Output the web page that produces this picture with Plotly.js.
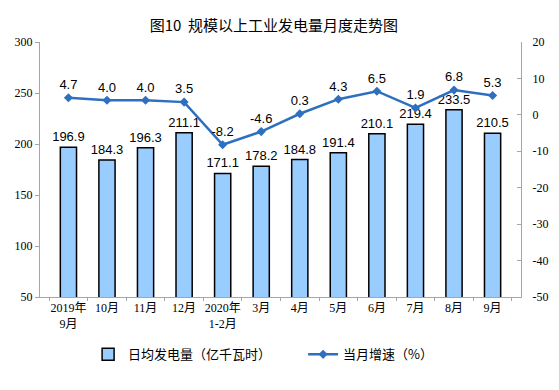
<!DOCTYPE html>
<html><head><meta charset="utf-8">
<script src="https://cdn.plot.ly/plotly-3.0.1.min.js"></script>
<style>body{margin:0;background:#fff}#c{width:559px;height:390px}</style>
</head><body><div id="c"></div>
<script>
var categories = ['2019年<br>9月','10月','11月','12月','2020年<br>1-2月','3月','4月','5月','6月','7月','8月','9月'];
var dailyGen = [196.9,184.3,196.3,211.1,171.1,178.2,184.8,191.4,210.1,219.4,233.5,210.5];
var growth = [4.7,4.0,4.0,3.5,-8.2,-4.6,0.3,4.3,6.5,1.9,6.8,5.3];
var leftTicks = [50,100,150,200,250,300];
var rightTicks = [-50,-40,-30,-20,-10,0,10,20];

var traces = [
  {type:'bar', x:categories, y:dailyGen, name:'日均发电量（亿千瓦时）',
   marker:{color:'#99CCFF', line:{color:'#000000', width:1.5}},
   width:0.42, text:dailyGen.map(function(v){return v.toFixed(1);}),
   textposition:'outside', cliponaxis:false, constraintext:'none',
   textfont:{family:'Liberation Sans, Arial', size:13, color:'#000'}},
  {type:'scatter', mode:'lines+markers+text', x:categories, y:growth, yaxis:'y2', name:'当月增速（%）',
   line:{color:'#2E6FC0', width:2.5}, marker:{symbol:'diamond', size:7, color:'#2E6FC0'},
   text:growth.map(function(v){return v.toFixed(1);}), textposition:'top center', cliponaxis:false,
   textfont:{family:'Liberation Sans, Arial', size:13, color:'#000'}}
];
var tickFont = {family:'Liberation Serif, Times New Roman, Noto Sans CJK SC', size:12, color:'#000'};
var layout = {
  width:559, height:390, margin:{l:40, r:38, t:42, b:93},
  paper_bgcolor:'#fff', plot_bgcolor:'#fff',
  title:{text:'图10  规模以上工业发电量月度走势图', x:0.49, xanchor:'center', y:0.935, yanchor:'middle',
         font:{family:'Noto Sans CJK SC', size:15, color:'#000'}},
  showlegend:true,
  legend:{orientation:'h', x:0.1, xanchor:'left', y:-0.225, yanchor:'middle',
          font:{family:'Noto Sans CJK SC', size:13, color:'#000'}, entrywidth:170, entrywidthmode:'pixels'},
  xaxis:{type:'category', showline:true, linecolor:'#A6A6A6', linewidth:1, ticks:'outside', ticklen:3,
         tickcolor:'#A6A6A6', tickson:'boundaries', tickfont:tickFont, tickangle:0, showgrid:false},
  yaxis:{range:[50,300], tickvals:leftTicks, showline:true, linecolor:'#A6A6A6', linewidth:1,
         ticks:'outside', ticklen:4, tickcolor:'#A6A6A6', tickfont:tickFont, showgrid:false, zeroline:false},
  yaxis2:{range:[-50,20], tickvals:rightTicks, ticktext:rightTicks.map(String), overlaying:'y', side:'right', showline:true, linecolor:'#A6A6A6',
          linewidth:1, ticks:'inside', ticklen:4, tickcolor:'#A6A6A6', tickfont:tickFont, showgrid:false, zeroline:false,
          ticklabelstandoff:8}
};
Plotly.newPlot('c', traces, layout, {displayModeBar:false, staticPlot:true});
</script></body></html>
